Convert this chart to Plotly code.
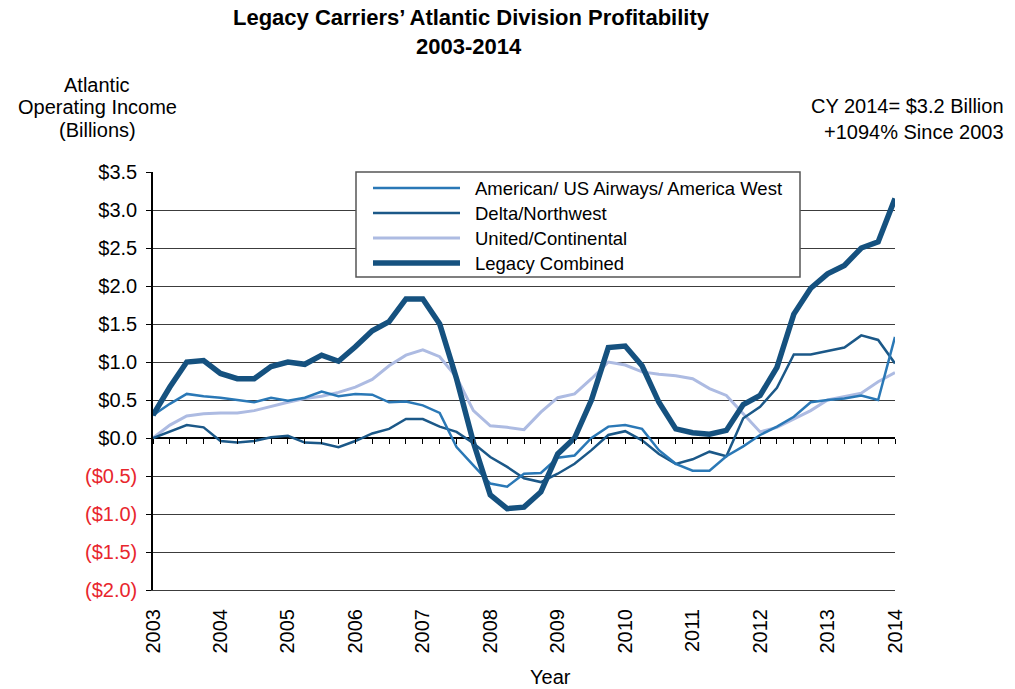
import plotly.graph_objects as go

# Quarterly time points 2003.00 .. 2014.00
quarters = [2003 + 0.25 * i for i in range(45)]

american = [0.30, 0.45, 0.58, 0.55, 0.53, 0.50, 0.47, 0.53, 0.49, 0.53,
            0.61, 0.55, 0.58, 0.57, 0.47, 0.48, 0.43, 0.33, -0.12, -0.36,
            -0.60, -0.64, -0.47, -0.46, -0.26, -0.23, 0.00, 0.15, 0.17, 0.12,
            -0.16, -0.34, -0.43, -0.43, -0.24, -0.11, 0.04, 0.15, 0.28, 0.47,
            0.50, 0.52, 0.56, 0.50, 1.33]

delta = [0.00, 0.08, 0.17, 0.14, -0.04, -0.06, -0.04, 0.01, 0.03, -0.06,
         -0.07, -0.12, -0.04, 0.06, 0.12, 0.25, 0.25, 0.15, 0.08, -0.07,
         -0.25, -0.38, -0.53, -0.58, -0.47, -0.34, -0.16, 0.04, 0.09, -0.03,
         -0.21, -0.34, -0.28, -0.18, -0.24, 0.26, 0.41, 0.66, 1.10, 1.10,
         1.14, 1.19, 1.35, 1.29, 0.98]

united = [0.00, 0.17, 0.29, 0.32, 0.33, 0.33, 0.36, 0.42, 0.47, 0.52,
          0.55, 0.60, 0.67, 0.77, 0.95, 1.09, 1.16, 1.07, 0.80, 0.36,
          0.16, 0.14, 0.11, 0.34, 0.53, 0.58, 0.78, 1.00, 0.96, 0.87,
          0.84, 0.82, 0.78, 0.65, 0.56, 0.32, 0.08, 0.14, 0.25, 0.36,
          0.50, 0.54, 0.59, 0.74, 0.86]

legacy = [0.30, 0.67, 1.00, 1.02, 0.85, 0.78, 0.78, 0.94, 1.00, 0.97,
          1.09, 1.01, 1.20, 1.41, 1.53, 1.83, 1.83, 1.50, 0.78, -0.06,
          -0.75, -0.93, -0.91, -0.71, -0.21, 0.00, 0.50, 1.19, 1.21, 0.95,
          0.47, 0.12, 0.07, 0.05, 0.10, 0.44, 0.56, 0.93, 1.63, 1.97,
          2.16, 2.27, 2.50, 2.58, 3.15]

series_names = ["American/ US Airways/ America West", "Delta/Northwest",
                "United/Continental", "Legacy Combined"]

year_ticks = list(range(2003, 2015))
year_labels = [str(y) for y in year_ticks]

y_ticks = [-2.0, -1.5, -1.0, -0.5, 0.0, 0.5, 1.0, 1.5, 2.0, 2.5, 3.0, 3.5]
RED = "#e8262d"
y_labels = [(f'<span style="color:{RED}">(${abs(v):.1f})</span>' if v < 0 else f"${v:.1f}")
            for v in y_ticks]

colors = {"american": "#2a78b6", "delta": "#1b5888", "united": "#adbbe2", "legacy": "#15517f"}
widths = {"american": 2.5, "delta": 2.5, "united": 3, "legacy": 5.5}

FONT = "Liberation Sans, Arial, Helvetica, sans-serif"
GRID = "#3c3c3c"

# plot area in pixels
L, R, T, B = 153, 895, 172, 590
W, H = R - L, B - T
def fx(px):
    return (px - L) / W
def fy(py):
    return (B - py) / H

fig = go.Figure()
for key, vals, name in [("united", united, series_names[2]),
                        ("delta", delta, series_names[1]),
                        ("american", american, series_names[0]),
                        ("legacy", legacy, series_names[3])]:
    fig.add_trace(go.Scatter(x=quarters, y=vals, mode="lines", name=name,
                             line=dict(color=colors[key], width=widths[key]),
                             showlegend=False))

# empty carrier trace so the bottom (year-label) axis is rendered
fig.add_trace(go.Scatter(x=[year_ticks[0], year_ticks[-1]], y=[None, None], xaxis="x2",
                         mode="lines", showlegend=False, hoverinfo="skip"))

zero_pos = (0 - (-2.0)) / (3.5 - (-2.0))

fig.update_layout(
    width=1015, height=689,
    margin=dict(l=L, r=1015 - R, t=T, b=689 - B, autoexpand=False),
    paper_bgcolor="white", plot_bgcolor="white",
    font=dict(family=FONT, size=20, color="black"),
    showlegend=False,
    xaxis=dict(range=[2003, 2014], anchor="free", position=zero_pos,
               tickmode="linear", tick0=2003, dtick=0.25,
               ticks="outside", ticklen=5, tickwidth=1, tickcolor="black",
               showticklabels=False, showgrid=False, showline=False, zeroline=False),
    xaxis2=dict(range=[2003, 2014], overlaying="x", anchor="y", side="bottom",
                tickmode="array", tickvals=year_ticks, ticktext=year_labels,
                tickangle=-90, ticks="", showgrid=False,
                showline=True, linecolor=GRID, linewidth=1,
                zeroline=False, ticklabelstandoff=10,
                tickfont=dict(size=20, family=FONT, color="black")),
    yaxis=dict(range=[-2.0, 3.5], tickmode="array", tickvals=y_ticks, ticktext=y_labels,
               ticks="outside", ticklen=5, tickcolor="black",
               showline=True, linecolor="black", linewidth=1.5,
               showgrid=True, gridcolor=GRID, gridwidth=1,
               zeroline=True, zerolinecolor="black", zerolinewidth=1.5,
               ticklabelstandoff=5,
               tickfont=dict(size=20, family=FONT, color="black")),
)

ann = []
ann.append(dict(text="<b>Legacy Carriers’ Atlantic Division Profitability</b>",
                x=fx(471), y=fy(18), xref="paper", yref="paper",
                xanchor="center", yanchor="middle", showarrow=False,
                font=dict(size=22, family=FONT)))
ann.append(dict(text="<b>2003-2014</b>",
                x=fx(469), y=fy(46), xref="paper", yref="paper",
                xanchor="center", yanchor="middle", showarrow=False,
                font=dict(size=22, family=FONT)))
for txt, py in [("Atlantic", 85), ("Operating Income", 107), ("(Billions)", 130)]:
    ann.append(dict(text=txt, x=fx(97), y=fy(py), xref="paper", yref="paper",
                    xanchor="center", yanchor="middle", showarrow=False,
                    font=dict(size=20, family=FONT)))
ann.append(dict(text="CY 2014= $3.2 Billion<br>+1094% Since 2003",
                x=fx(1006), y=fy(119), xref="paper", yref="paper",
                xanchor="right", yanchor="middle", align="right", showarrow=False,
                font=dict(size=20, family=FONT)))
ann.append(dict(text="Year", x=fx(550), y=fy(677), xref="paper", yref="paper",
                xanchor="center", yanchor="middle", showarrow=False,
                font=dict(size=20, family=FONT)))

# legend box (manual)
shapes = [dict(type="rect", xref="paper", yref="paper",
               x0=fx(356), x1=fx(800), y0=fy(277), y1=fy(172),
               line=dict(color="#555555", width=1.5), fillcolor="white", layer="above")]
leg_keys = ["american", "delta", "united", "legacy"]
for i, (key, name) in enumerate(zip(leg_keys, series_names)):
    py = 188 + 25 * i
    shapes.append(dict(type="line", xref="paper", yref="paper",
                       x0=fx(373), x1=fx(460), y0=fy(py), y1=fy(py),
                       line=dict(color=colors[key], width=widths[key]), layer="above"))
    ann.append(dict(text=name, x=fx(473), y=fy(py), xref="paper", yref="paper",
                    xanchor="left", yanchor="middle", showarrow=False,
                    font=dict(size=18.5, family=FONT)))

fig.update_layout(annotations=ann, shapes=shapes)
fig.write_html("out.html", config={"displayModeBar": False},
               post_script="document.body.style.margin='0';document.body.style.overflow='hidden';")
